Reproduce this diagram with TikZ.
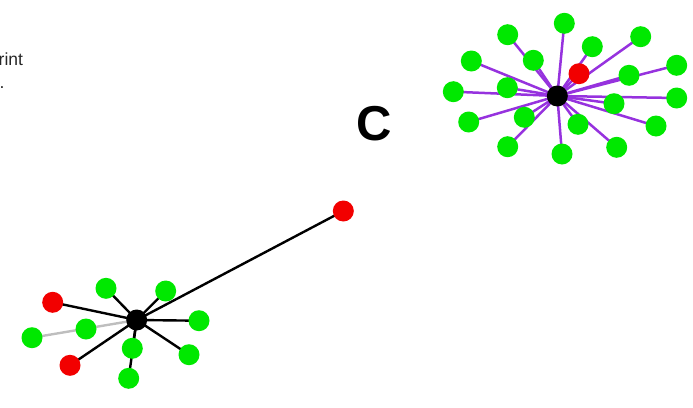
\documentclass[tikz,border=0pt]{standalone}
\usepackage{fontspec}
\setmainfont{Liberation Sans}
\usetikzlibrary{backgrounds}
\definecolor{ngreen}{RGB}{0,232,0}
\definecolor{nred}{RGB}{242,0,0}
\definecolor{epurple}{RGB}{150,50,222}
\definecolor{egray}{RGB}{190,190,190}
\tikzset{
  gnode/.style={circle, fill=ngreen, minimum size=21pt, inner sep=0pt},
  rnode/.style={circle, fill=nred, minimum size=21pt, inner sep=0pt},
  hub/.style={circle, fill=black, minimum size=21pt, inner sep=0pt},
  pedge/.style={draw=epurple, line width=2.5pt},
  bedge/.style={draw=black, line width=2.4pt},
  gedge/.style={draw=egray, line width=2.4pt},
  lbl/.style={inner sep=0pt, font=\fontsize{17.5}{20}\selectfont, text=black!85}
}
\begin{document}
\begin{tikzpicture}[x=1pt,y=-1pt]
\useasboundingbox (0,0) rectangle (693,407);

% texts
\node[lbl, anchor=base west] (t1) at (-1.5,65.5) {rint};
\node[lbl, anchor=base west] (t2) at (-0.5,88) {.};
\node[inner sep=0pt, font=\bfseries\fontsize{49}{49}\selectfont, anchor=base] (C) at (374.5,140.5) {C};

% top-right cluster
\node[hub] (c1) at (557.3,96) {};
\node[gnode] (a1) at (564.3,23.3) {};
\node[gnode] (a2) at (507.7,34.7) {};
\node[gnode] (a3) at (592.3,46.7) {};
\node[gnode] (a4) at (640.7,36.7) {};
\node[gnode] (a5) at (471.3,61) {};
\node[gnode] (a6) at (533.3,60.3) {};
\node[rnode] (a7) at (579,73.7) {};
\node[gnode] (a8) at (676.7,65.3) {};
\node[gnode] (a9) at (629,75.3) {};
\node[gnode] (a10) at (453.3,91.7) {};
\node[gnode] (a11) at (507.3,87.7) {};
\node[gnode] (a12) at (676.7,98) {};
\node[gnode] (a13) at (614,103.7) {};
\node[gnode] (a14) at (468.7,122) {};
\node[gnode] (a15) at (524.3,117.3) {};
\node[gnode] (a16) at (578,124.3) {};
\node[gnode] (a17) at (656,126) {};
\node[gnode] (a18) at (507.7,146.7) {};
\node[gnode] (a19) at (562,154) {};
\node[gnode] (a20) at (616.7,147.3) {};

\begin{scope}[on background layer]
\foreach \n in {a1,a2,a3,a4,a5,a6,a7,a8,a9,a10,a11,a12,a13,a14,a15,a16,a17,a18,a19,a20}
  \path[pedge] (c1.center) -- (\n.center);
\end{scope}

% bottom-left cluster
\node[hub] (c2) at (136.7,320) {};
\node[gnode] (b1) at (106,288.3) {};
\node[gnode] (b2) at (165.7,291) {};
\node[rnode] (b3) at (52.7,302.3) {};
\node[gnode] (b4) at (199,320.7) {};
\node[gnode] (b5) at (86,329) {};
\node[gnode] (b6) at (32,337.7) {};
\node[gnode] (b7) at (132.3,348.3) {};
\node[gnode] (b8) at (189,354.7) {};
\node[rnode] (b9) at (70,365.3) {};
\node[gnode] (b10) at (128.7,378.3) {};
\node[rnode] (b11) at (343.3,211) {};

\begin{scope}[on background layer]
\path[gedge] (c2.center) -- (b6.center);
\foreach \n in {b1,b2,b3,b4,b7,b8,b9,b10,b11}
  \path[bedge] (c2.center) -- (\n.center);
\end{scope}
\end{tikzpicture}
\end{document}
